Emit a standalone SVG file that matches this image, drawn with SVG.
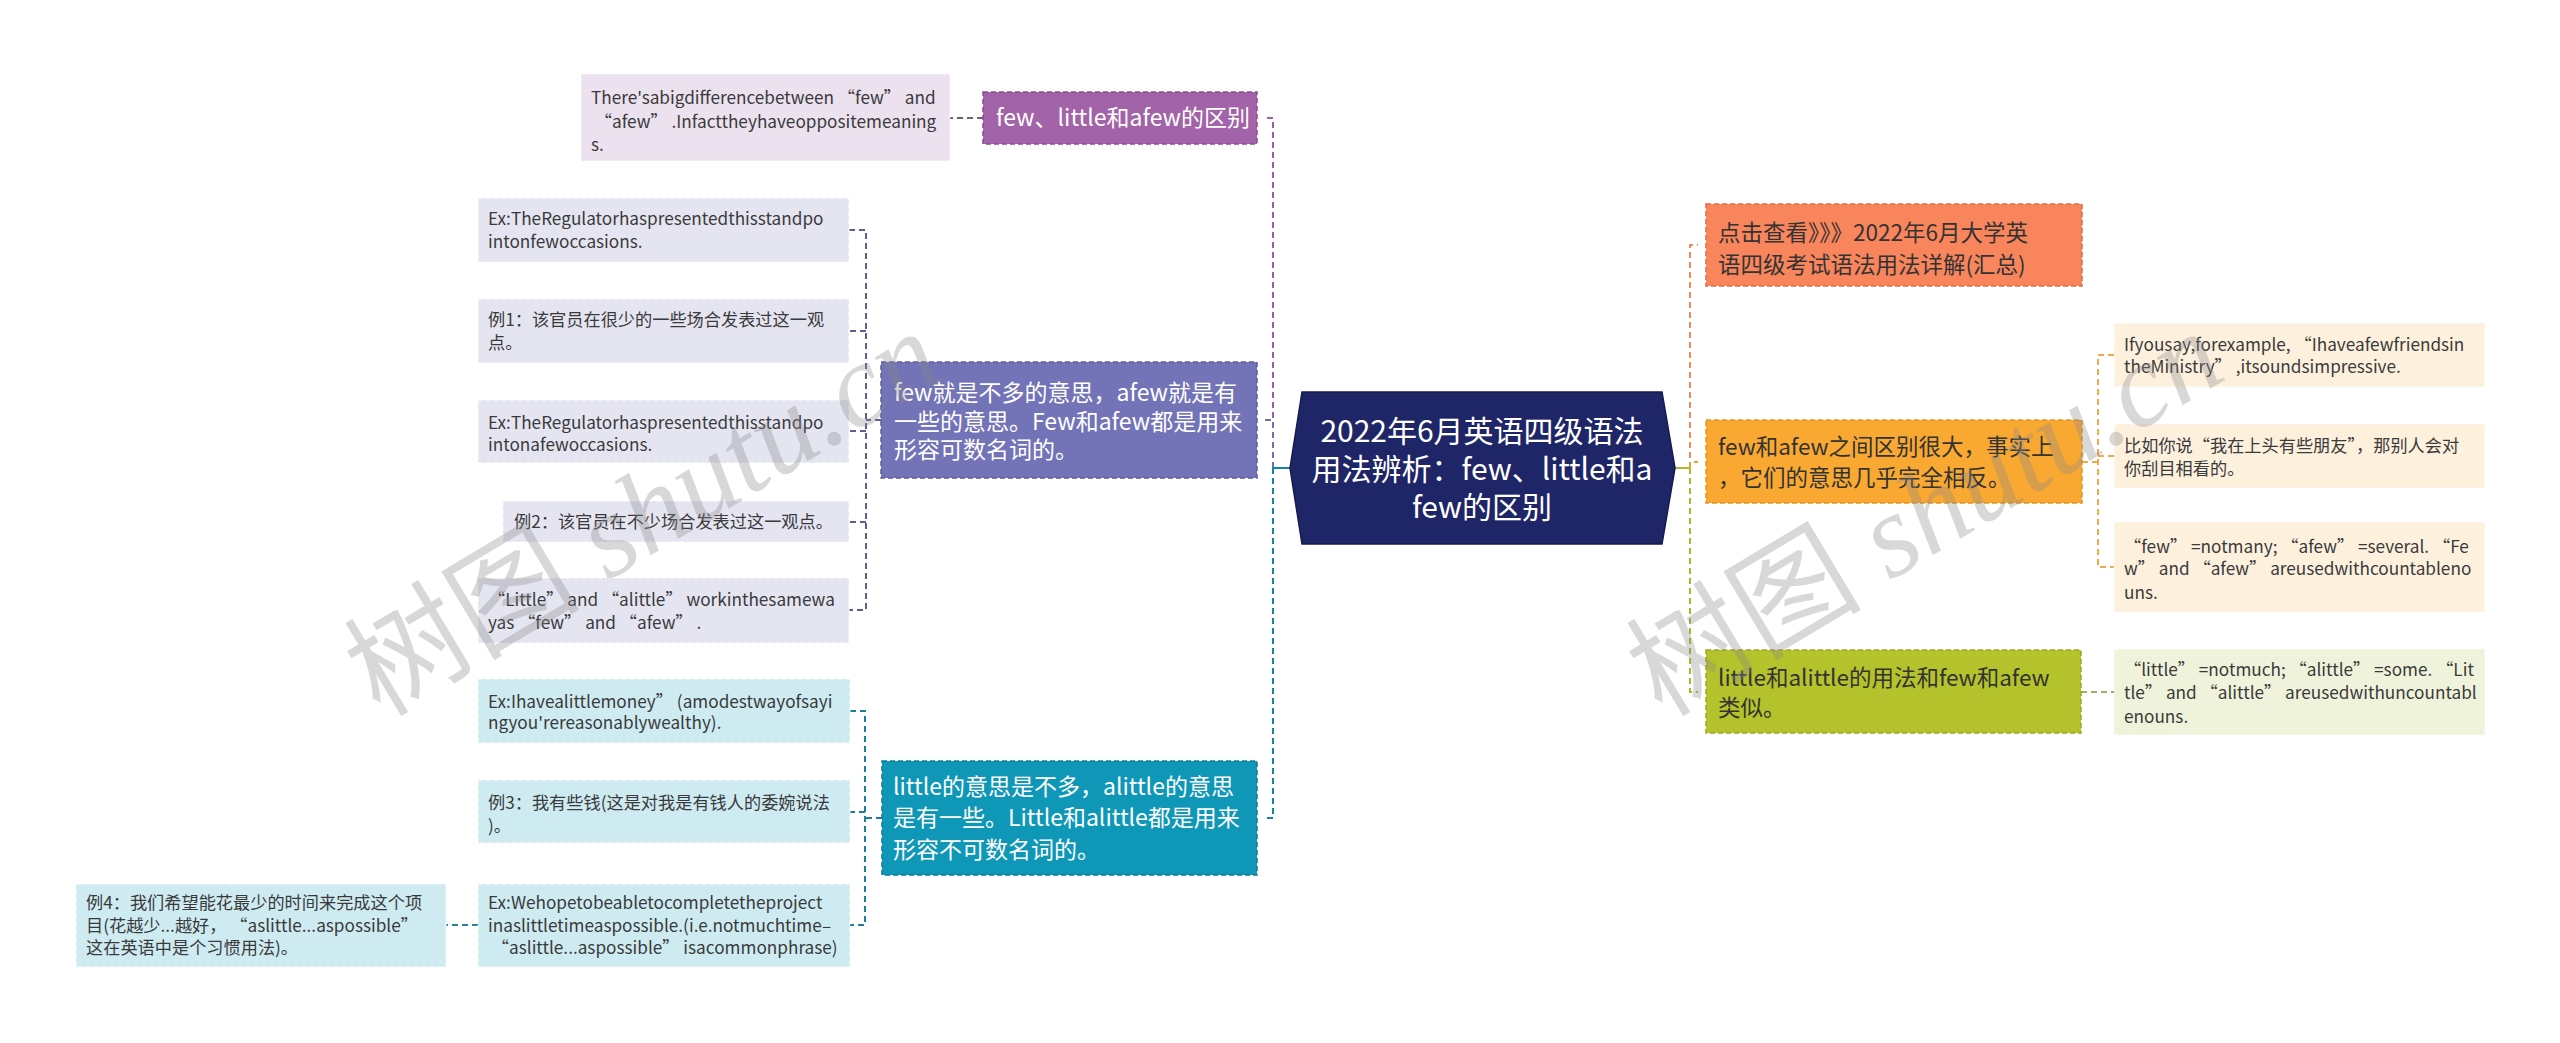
<svg xmlns="http://www.w3.org/2000/svg" width="2560" height="1043" viewBox="0 0 2560 1043">
<style>
text{font-family:"Noto Sans CJK SC","Noto Sans",sans-serif;}
.leaf{font-size:17.2px;fill:#3a3a3a;}
.mid{font-size:23px;fill:#ffffff;}
.rt{font-size:22.5px;fill:#333333;}
.root{font-size:30px;fill:#ffffff;text-anchor:middle;}
.nb{stroke-width:1.5;stroke-dasharray:5 3;}
.lb{stroke:#ffffff;stroke-opacity:0.6;stroke-width:1.5;stroke-dasharray:5 3;}
.c{fill:none;stroke-width:2;stroke-dasharray:6 4;}
.wm{font-family:"Liberation Serif","Noto Sans CJK SC",serif;font-size:118px;fill:#8a8a8a;fill-opacity:0.33;}
.it{font-style:italic;}
</style>
<rect x="0" y="0" width="2560" height="1043" fill="#ffffff"/>

<g id="connectors">
  <path class="c" stroke="#9b5fa6" d="M1273,468 V118 H1265"/>
  <path class="c" stroke="#6f6fb3" d="M1273,468 V420 H1265"/>
  <path class="c" stroke="#1284a5" d="M1273,468 V818 H1265"/>
  <path fill="none" stroke="#1284a5" stroke-width="2" d="M1273,468 H1290"/>
  <path class="c" stroke="#6e5f7a" d="M983,118 H950"/>
  <path class="c" stroke="#5f5f8f" d="M881,420 H866 M849,230 H866 V610 H849 M866,331 H849 M866,431 H849 M866,522 H849"/>
  <path class="c" stroke="#1a7f98" d="M882,818 H865 M850,711 H865 V925 H850 M865,812 H850"/>
  <path class="c" stroke="#2a8399" d="M478,925 H446"/>
  <path fill="none" stroke="#a8ba2a" stroke-width="2" d="M1675,468 H1690"/>
  <path class="c" stroke="#ee8a60" d="M1690,468 V245 H1698"/>
  <path class="c" stroke="#f0a030" d="M1690,468 V462 H1698"/>
  <path class="c" stroke="#a8ba2a" d="M1690,468 V692 H1698"/>
  <path class="c" stroke="#f0a848" d="M2082,462 H2098 M2114,355 H2098 V567 H2114 M2098,456 H2114"/>
  <path class="c" stroke="#a4ae6a" d="M2081,692 H2114"/>
</g>

<g id="root">
  <polygon points="1290,468 1302,392 1662,392 1675,468 1662,544 1302,544" fill="#1f2667" stroke="#151b50" stroke-width="1.5"/>
  <text class="root" x="1482" y="442">2022年6月英语四级语法</text>
  <text class="root" x="1482" y="480">用法辨析：few、little和a</text>
  <text class="root" x="1482" y="518">few的区别</text>
</g>

<g id="node-diff">
  <rect x="983" y="92" width="274" height="52" fill="#a263a9" stroke="#8a4f92" class="nb"/>
  <text class="mid" x="996" y="126">few、little和afew的区别</text>
</g>
<g id="leaf-diff">
  <rect x="581" y="74" width="369" height="87" fill="#ebe1ef" class="lb"/>
  <text class="leaf"><tspan x="591" y="104">There'sabigdifferencebetween “few” and</tspan><tspan x="591" y="128"> “afew” .Infacttheyhaveoppositemeaning</tspan><tspan x="591" y="151">s.</tspan></text>
</g>

<g id="node-few">
  <rect x="881" y="362" width="376" height="116" fill="#7373b7" stroke="#5d5d9e" class="nb"/>
  <text class="mid"><tspan x="894" y="401">few就是不多的意思，afew就是有</tspan><tspan x="894" y="430">一些的意思。Few和afew都是用来</tspan><tspan x="894" y="458">形容可数名词的。</tspan></text>
</g>
<g id="leaf-few-1">
  <rect x="478" y="198" width="371" height="64" fill="#e5e5f2" class="lb"/>
  <text class="leaf"><tspan x="488" y="225">Ex:TheRegulatorhaspresentedthisstandpo</tspan><tspan x="488" y="248">intonfewoccasions.</tspan></text>
</g>
<g id="leaf-few-2">
  <rect x="478" y="299" width="371" height="64" fill="#e5e5f2" class="lb"/>
  <text class="leaf"><tspan x="488" y="326">例1：该官员在很少的一些场合发表过这一观</tspan><tspan x="488" y="349">点。</tspan></text>
</g>
<g id="leaf-few-3">
  <rect x="478" y="400" width="371" height="63" fill="#e5e5f2" class="lb"/>
  <text class="leaf"><tspan x="488" y="429">Ex:TheRegulatorhaspresentedthisstandpo</tspan><tspan x="488" y="451">intonafewoccasions.</tspan></text>
</g>
<g id="leaf-few-4">
  <rect x="503" y="501" width="346" height="41" fill="#e5e5f2" class="lb"/>
  <text class="leaf" x="514" y="528">例2：该官员在不少场合发表过这一观点。</text>
</g>
<g id="leaf-few-5">
  <rect x="478" y="578" width="371" height="65" fill="#e5e5f2" class="lb"/>
  <text class="leaf"><tspan x="488" y="606">“Little” and “alittle” workinthesamewa</tspan><tspan x="488" y="629">yas “few” and “afew” .</tspan></text>
</g>

<g id="node-little">
  <rect x="882" y="761" width="375" height="114" fill="#0f97b7" stroke="#0b7e99" class="nb"/>
  <text class="mid"><tspan x="893" y="795">little的意思是不多，alittle的意思</tspan><tspan x="893" y="826">是有一些。Little和alittle都是用来</tspan><tspan x="893" y="858">形容不可数名词的。</tspan></text>
</g>
<g id="leaf-little-1">
  <rect x="478" y="679" width="372" height="64" fill="#ceebf2" class="lb"/>
  <text class="leaf"><tspan x="488" y="708">Ex:Ihavealittlemoney” (amodestwayofsayi</tspan><tspan x="488" y="729">ngyou'rereasonablywealthy).</tspan></text>
</g>
<g id="leaf-little-2">
  <rect x="478" y="780" width="372" height="63" fill="#ceebf2" class="lb"/>
  <text class="leaf"><tspan x="488" y="809">例3：我有些钱(这是对我是有钱人的委婉说法</tspan><tspan x="488" y="832">)。</tspan></text>
</g>
<g id="leaf-little-3">
  <rect x="478" y="884" width="372" height="83" fill="#ceebf2" class="lb"/>
  <text class="leaf"><tspan x="488" y="909">Ex:Wehopetobeabletocompletetheproject</tspan><tspan x="488" y="932">inaslittletimeaspossible.(i.e.notmuchtime–</tspan><tspan x="488" y="954"> “aslittle...aspossible” isacommonphrase)</tspan></text>
</g>
<g id="leaf-little-4">
  <rect x="76" y="884" width="370" height="83" fill="#ceebf2" class="lb"/>
  <text class="leaf"><tspan x="86" y="909">例4：我们希望能花最少的时间来完成这个项</tspan><tspan x="86" y="932">目(花越少...越好， “aslittle...aspossible”</tspan><tspan x="86" y="954">这在英语中是个习惯用法)。</tspan></text>
</g>

<g id="node-link">
  <rect x="1706" y="204" width="376" height="82" fill="#f8855c" stroke="#e06c44" class="nb"/>
  <text class="rt"><tspan x="1718" y="241">点击查看》》》2022年6月大学英</tspan><tspan x="1718" y="273">语四级考试语法用法详解(汇总)</tspan></text>
</g>

<g id="node-fewafew">
  <rect x="1706" y="420" width="376" height="83" fill="#f9a932" stroke="#e39420" class="nb"/>
  <text class="rt"><tspan x="1718" y="455">few和afew之间区别很大，事实上</tspan><tspan x="1718" y="486">，它们的意思几乎完全相反。</tspan></text>
</g>
<g id="leaf-fa-1">
  <rect x="2114" y="323" width="371" height="64" fill="#fdf1de" class="lb"/>
  <text class="leaf"><tspan x="2124" y="351">Ifyousay,forexample, “Ihaveafewfriendsin</tspan><tspan x="2124" y="373">theMinistry” ,itsoundsimpressive.</tspan></text>
</g>
<g id="leaf-fa-2">
  <rect x="2114" y="424" width="371" height="64" fill="#fdf1de" class="lb"/>
  <text class="leaf"><tspan x="2124" y="452">比如你说“我在上头有些朋友”，那别人会对</tspan><tspan x="2124" y="475">你刮目相看的。</tspan></text>
</g>
<g id="leaf-fa-3">
  <rect x="2114" y="522" width="371" height="90" fill="#fdf1de" class="lb"/>
  <text class="leaf"><tspan x="2124" y="553"> “few” =notmany; “afew” =several. “Fe</tspan><tspan x="2124" y="575">w” and “afew” areusedwithcountableno</tspan><tspan x="2124" y="599">uns.</tspan></text>
</g>

<g id="node-littlealittle">
  <rect x="1706" y="650" width="375" height="83" fill="#b4c22b" stroke="#9aa81f" class="nb"/>
  <text class="rt"><tspan x="1718" y="686">little和alittle的用法和few和afew</tspan><tspan x="1718" y="716">类似。</tspan></text>
</g>
<g id="leaf-la-1">
  <rect x="2114" y="649" width="371" height="86" fill="#f0f3db" class="lb"/>
  <text class="leaf"><tspan x="2124" y="676"> “little” =notmuch; “alittle” =some. “Lit</tspan><tspan x="2124" y="699">tle” and “alittle” areusedwithuncountabl</tspan><tspan x="2124" y="723">enouns.</tspan></text>
</g>

<g id="watermark">
  <text class="wm" transform="translate(380,718) rotate(-31)">树图 <tspan class="it">shutu.cn</tspan></text>
  <text class="wm" transform="translate(1662,718) rotate(-31)">树图 <tspan class="it">shutu.cn</tspan></text>
</g>
</svg>
